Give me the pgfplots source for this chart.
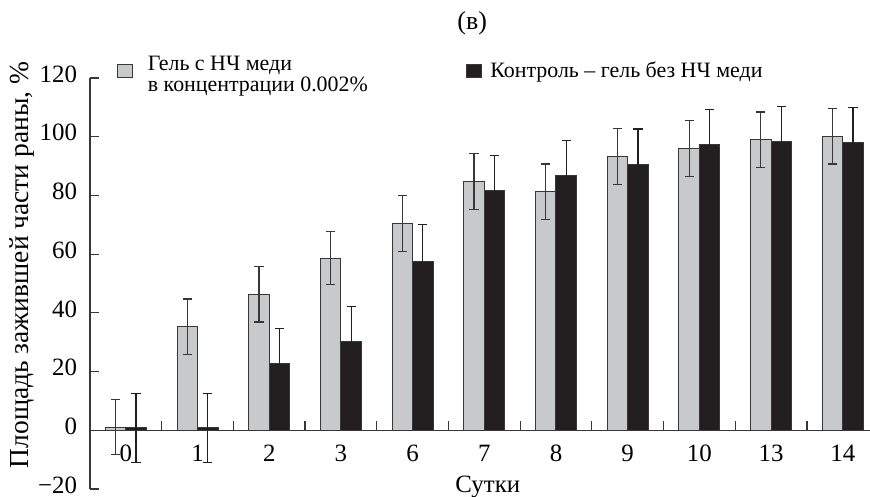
\documentclass[border=0pt]{standalone}
\usepackage{fontspec}
\setmainfont{Liberation Serif}
\usepackage{pgfplots}
\pgfplotsset{compat=1.18}
\definecolor{gelgray}{RGB}{200,201,203}
\definecolor{ctrlblack}{RGB}{35,31,32}
\definecolor{edge}{RGB}{55,55,55}
\pgfplotsset{
  sqlegendA/.style={legend image code/.code={\draw[##1] (0bp,-3.25bp) rectangle (7.5bp,3.25bp); \path[draw=none,fill=none] (0bp,0bp) rectangle (13bp,0.1bp);}},
  sqlegendB/.style={legend image code/.code={\draw[##1] (0bp,-3.25bp) rectangle (7.5bp,3.25bp); \path[draw=none,fill=none] (0bp,0bp) rectangle (10bp,0.1bp);}}
}
\begin{document}
\begin{tikzpicture}
\begin{axis}[
  name=ax,
  scale only axis,
  width=390bp, height=205.5bp,
  xmin=-0.5, xmax=10.38,
  ymin=-20, ymax=120,
  axis y line=left,
  axis x line=middle,
  x axis line style={-, draw=edge, line width=0.6bp},
  y axis line style={-, draw=edge, line width=0.6bp},
  tick align=inside,
  xtick={0,...,10},
  xticklabels={0,1,2,3,6,7,8,9,10,13,14},
  minor xtick={0.5,1.5,...,9.5},
  major x tick style={draw=none},
  minor x tick style={draw=edge, line width=0.6bp},
  minor tick length=4.5bp,
  major tick length=4.5bp,
  ytick={-20,0,20,40,60,80,100,120},
  yticklabels={−20,0,20,40,60,80,100,120},
  y tick style={draw=edge, line width=0.6bp},
  /pgf/number format/assume math mode=true,
  tick label style={font=\fontsize{12.5}{14}\selectfont},
  xticklabel style={yshift=-4bp},
  yticklabel style={xshift=-3bp, yshift=2bp},
  xlabel={Сутки},
  xlabel style={at={(axis description cs:0.51,-0.008)}, anchor=base, font=\fontsize{12.5}{14}\selectfont},
  ylabel={Площадь зажившей части раны, \%},
  ylabel style={at={(axis description cs:-0.087,0.545)}, anchor=center, font=\fontsize{13.8}{15}\selectfont},
  title={(в)},
  title style={at={(axis description cs:0.49,1.09)}, anchor=base, font=\fontsize{13}{15}\selectfont},
  clip=false,
  legend columns=2,
  legend cell align=left,
  legend style={draw=none, fill=none, at={(axis description cs:0.0346,1.064)}, anchor=north west,
    inner sep=0pt, font=\fontsize{11}{10.5}\selectfont,
    /tikz/every even column/.append style={column sep=47bp}},
]
\addplot[ybar, bar width=0.286, bar shift=0, fill=gelgray, draw=edge, line width=0.5bp, sqlegendA,
  error bars/.cd, y dir=both, y explicit,
  error bar style={draw=edge, line width=0.6bp},
  error mark options={rotate=90, mark size=2.3bp, line width=0.6bp, draw=edge}]
  table[x=x, y=y, y error=e] {
x y e
-0.143 1.1 9.4
0.857 35.2 9.5
1.857 46.4 9.5
2.857 58.6 9.0
3.857 70.4 9.5
4.857 84.7 9.5
5.857 81.2 9.5
6.857 93.2 9.5
7.857 96.0 9.5
8.857 98.9 9.5
9.857 100.2 9.5
};
\addlegendentry{\begin{tabular}{@{}l@{}}Гель с НЧ меди\\в концентрации 0.002\%\end{tabular}}
\addplot[ybar, bar width=0.286, bar shift=0, fill=ctrlblack, draw=edge, line width=0.5bp, sqlegendB,
  error bars/.cd, y dir=both, y explicit,
  error bar style={draw=ctrlblack, line width=0.6bp},
  error mark options={rotate=90, mark size=2.3bp, line width=0.6bp, draw=ctrlblack}]
  table[x=x, y=y, y error=e] {
x y e
0.143 0.8 11.8
1.143 0.8 11.8
2.143 22.7 12.1
3.143 30.1 12.1
4.143 57.6 12.4
5.143 81.6 11.9
6.143 86.7 11.9
7.143 90.5 12.1
8.143 97.2 12.0
9.143 98.5 11.9
10.143 98.1 11.9
};
\addlegendentry{Контроль – гель без НЧ меди}
\end{axis}
\pgfresetboundingbox
\path ([shift={(-45bp,-4bp)}]ax.south west) rectangle ([shift={(0bp,39bp)}]ax.north east);
\end{tikzpicture}
\end{document}
